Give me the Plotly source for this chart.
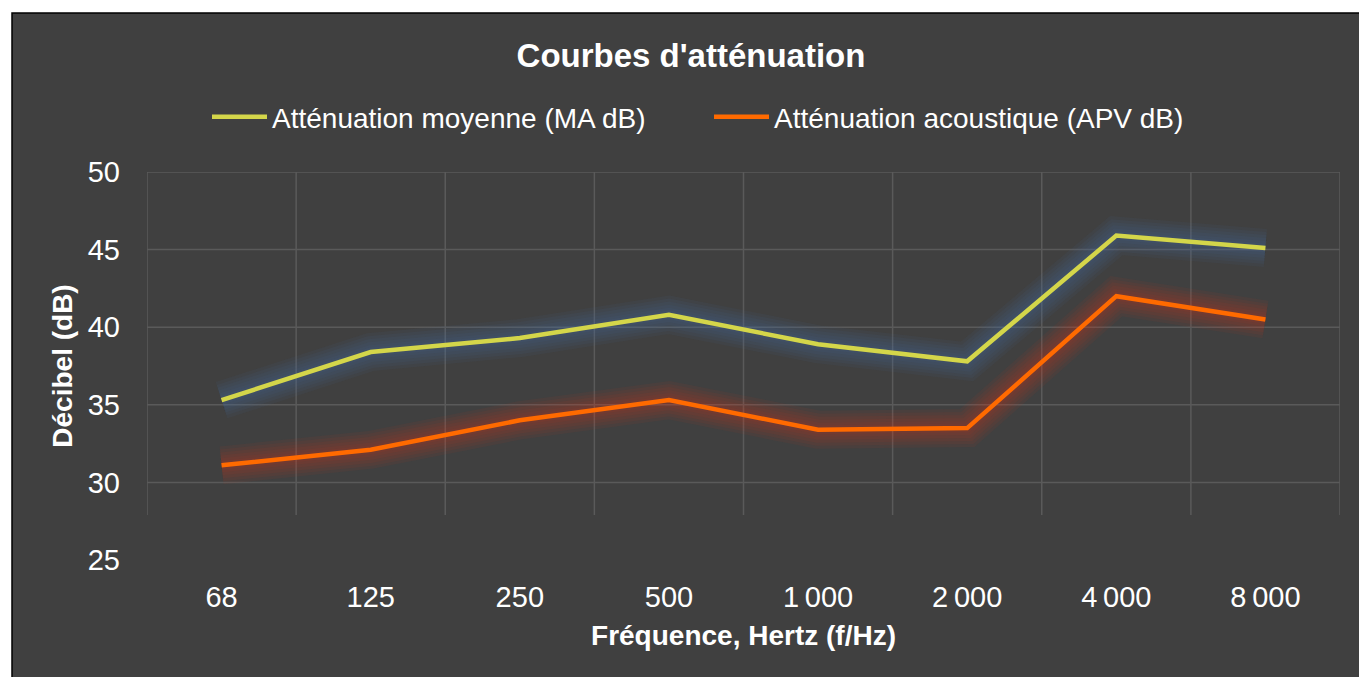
import plotly.graph_objects as go

# ---- data ----
frequencies = ["68", "125", "250", "500", "1\u202f000", "2\u202f000", "4\u202f000", "8\u202f000"]
ma_db = [35.3, 38.4, 39.3, 40.8, 38.9, 37.8, 45.9, 45.1]
apv_db = [31.1, 32.1, 34.0, 35.3, 33.4, 33.5, 42.0, 40.5]
y_ticks = [25, 30, 35, 40, 45, 50]
grid_y = [30, 35, 40, 45, 50]

title = "Courbes d'atténuation"
name_ma = "Atténuation moyenne (MA dB)"
name_apv = "Atténuation acoustique (APV dB)"
x_title = "Fréquence, Hertz (f/Hz)"
y_title = "Décibel (dB)"

# ---- style ----
BG = "#404040"
GRID = "#5A5A5A"
C_MA = "#D4D64A"
C_APV = "#FF6A00"
GLOW_MA = "rgba(75,120,175,0.07)"
GLOW_APV = "rgba(215,60,30,0.07)"
FONT = "Liberation Sans"

W, H = 1359, 677
ML, MR, MT, MB = 147, 19, 172, 117
PW = W - ML - MR
PH = H - MT - MB

fig = go.Figure()

# glow layers
for w in (38, 32, 26, 20, 14, 9):
    fig.add_trace(go.Scatter(x=frequencies, y=ma_db, mode="lines",
                             line=dict(color=GLOW_MA, width=w),
                             hoverinfo="skip", showlegend=False))
    fig.add_trace(go.Scatter(x=frequencies, y=apv_db, mode="lines",
                             line=dict(color=GLOW_APV, width=w),
                             hoverinfo="skip", showlegend=False))

fig.add_trace(go.Scatter(x=frequencies, y=ma_db, mode="lines", name=name_ma,
                         line=dict(color=C_MA, width=4.5)))
fig.add_trace(go.Scatter(x=frequencies, y=apv_db, mode="lines", name=name_apv,
                         line=dict(color=C_APV, width=4.5)))

shapes = []
# outer frame (white margin + black border)
shapes.append(dict(type="rect", xref="paper", yref="paper", layer="below",
                   x0=(12 - ML) / PW, x1=(W + 20 - ML) / PW,
                   y0=-(H + 20 - (MT + PH)) / PH, y1=((MT + PH) - 13) / PH,
                   fillcolor=BG, line=dict(color="black", width=1.5)))
# horizontal grid
for gy in grid_y:
    shapes.append(dict(type="line", xref="paper", yref="y", layer="below",
                       x0=0, x1=1, y0=gy, y1=gy, line=dict(color=GRID, width=1.5)))
# vertical grid (category boundaries)
for i in range(len(frequencies) + 1):
    shapes.append(dict(type="line", xref="x", yref="y", layer="below",
                       x0=i - 0.5, x1=i - 0.5, y0=50, y1=27.9,
                       line=dict(color=GRID, width=1.5)))

fig.update_layout(
    width=W, height=H,
    margin=dict(l=ML, r=MR, t=MT, b=MB, pad=0),
    paper_bgcolor="white",
    plot_bgcolor="rgba(0,0,0,0)",
    font=dict(family=FONT, color="white", size=28),
    title=dict(text="<b>" + title + "</b>", x=691 / W, xanchor="center",
               y=1 - 55 / H, yanchor="middle", font=dict(size=33, color="white")),
    legend=dict(orientation="h", x=(207 - ML) / PW, xanchor="left",
                y=(MT + PH - 117) / PH, yanchor="middle",
                font=dict(size=28, color="white"), bgcolor="rgba(0,0,0,0)",
                entrywidth=432, itemwidth=55),
    shapes=shapes,
    showlegend=True,
)
fig.update_xaxes(type="category", range=[-0.5, len(frequencies) - 0.5],
                 showgrid=False, zeroline=False, showline=False,
                 ticks="", ticklabelstandoff=17,
                 tickfont=dict(size=29, color="white"),
                 title=dict(text="<b>" + x_title + "</b>", standoff=13,
                            font=dict(size=28, color="white")))
fig.update_yaxes(range=[25, 50], tickvals=y_ticks, showgrid=False, zeroline=False,
                 showline=False, ticks="", ticklabelstandoff=26,
                 tickfont=dict(size=29, color="white"),
                 title=dict(text="<b>" + y_title + "</b>", standoff=6,
                            font=dict(size=28, color="white")))

fig.write_html("out.html", config={"displayModeBar": False},
               post_script="document.body.style.margin='0';document.body.style.overflow='hidden';")
